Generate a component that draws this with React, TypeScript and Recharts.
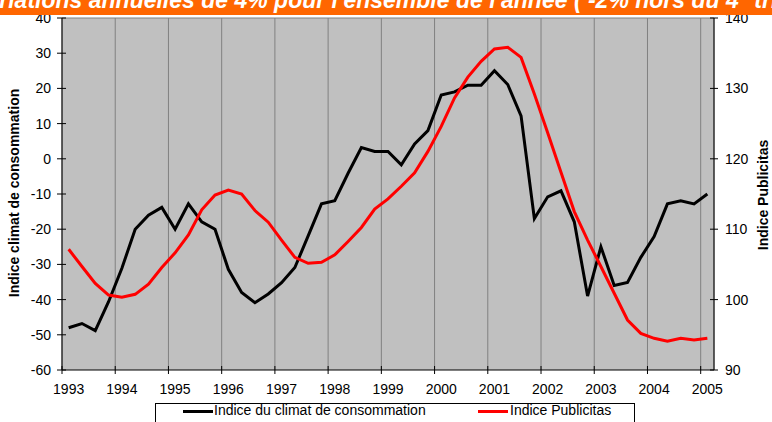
import React from 'react';
import { ComposedChart, Line, XAxis, YAxis, CartesianGrid, ReferenceLine } from 'recharts';

const years = ['1993', '1994', '1995', '1996', '1997', '1998', '1999', '2000', '2001', '2002', '2003', '2004', '2005'];

const climat = [-48, -46.8, -48.8, -40.6, -31.1, -20, -16, -13.8, -20, -12.8, -17.9, -20, -31.4, -38, -40.9, -38.4, -35.2, -30.9, -21.9, -12.8, -11.9, -4.1, 3.2, 2.1, 2.1, -1.7, 4.2, 8, 18.1, 19, 20.9, 20.9, 25, 21.1, 12.2, -17, -10.8, -9.1, -17.9, -39, -25, -36, -35.1, -28, -22.1, -12.8, -11.9, -12.8, -10];

const publicitas = [107.15, 104.7, 102.3, 100.65, 100.35, 100.75, 102.2, 104.55, 106.65, 109.2, 112.75, 114.85, 115.55, 115.0, 112.65, 111, 108.45, 106, 105.15, 105.3, 106.35, 108.25, 110.25, 112.85, 114.3, 116.1, 118, 121.05, 124.6, 128.65, 131.6, 133.85, 135.6, 135.85, 134.4, 129.2, 123.7, 118.1, 112.5, 108.45, 104.7, 100.9, 97.1, 95.2, 94.5, 94.1, 94.5, 94.25, 94.5];

const leftTicks = [-60, -50, -40, -30, -20, -10, 0, 10, 20, 30, 40];
const rightTicks = [90, 100, 110, 120, 130, 140];
const xTicks = years.map((_, i) => i * 4);

const data = climat.map((c, i) => ({ q: i + 0.5, climat: c, pub: publicitas[i] }));

const FONT = '"Liberation Sans", Arial, sans-serif';

const XTick = (props: any) => {
  const { x, y, payload } = props;
  const label = years[Math.round(payload.value / 4)];
  return (
    <g>
      <line x1={x} x2={x} y1={y - 4} y2={y + 4} stroke="#000" strokeWidth={1} />
      <text x={x + 6.65} y={y + 24} textAnchor="middle" fontSize={14} fontFamily={FONT} fill="#000">{label}</text>
    </g>
  );
};

const LeftTick = (props: any) => {
  const { x, y, payload } = props;
  return (
    <g>
      <line x1={x - 5} x2={x + 4} y1={y} y2={y} stroke="#000" strokeWidth={1} />
      <text x={x - 11} y={y + 5} textAnchor="end" fontSize={14} fontFamily={FONT} fill="#000">{payload.value}</text>
    </g>
  );
};

const RightTick = (props: any) => {
  const { x, y, payload } = props;
  return (
    <g>
      <line x1={x - 4} x2={x + 4} y1={y} y2={y} stroke="#000" strokeWidth={1} />
      <text x={x + 11} y={y + 5} textAnchor="start" fontSize={14} fontFamily={FONT} fill="#000">{payload.value}</text>
    </g>
  );
};

export default function App() {
  return (
    <div style={{ position: 'absolute', left: 0, top: 0, width: 772, height: 422, overflow: 'hidden', background: '#fff', fontFamily: FONT }}>
      <div style={{ position: 'absolute', left: 0, top: 0 }}>
        <ComposedChart width={772} height={422} data={data} margin={{ top: 18, right: 18, bottom: 22, left: 22 }}>
          <CartesianGrid yAxisId="left" horizontal={false} vertical={true} stroke="#808080" strokeWidth={1} fill="#C0C0C0" />
          <ReferenceLine yAxisId="left" y={40} stroke="#808080" strokeWidth={1} />
          <XAxis dataKey="q" type="number" domain={[0, 49]} ticks={xTicks} interval={0} tickLine={false} tickSize={0} tickMargin={0} height={30} axisLine={{ stroke: '#000' }} tick={<XTick />} allowDataOverflow />
          <YAxis yAxisId="left" domain={[-60, 40]} ticks={leftTicks} interval={0} tickLine={false} tickSize={0} tickMargin={0} width={40} axisLine={{ stroke: '#000' }} tick={<LeftTick />} allowDataOverflow />
          <YAxis yAxisId="right" orientation="right" domain={[90, 140]} ticks={rightTicks} interval={0} tickLine={false} tickSize={0} tickMargin={0} width={40} axisLine={{ stroke: '#000' }} tick={<RightTick />} allowDataOverflow />
          <Line yAxisId="left" type="linear" dataKey="climat" stroke="#000" strokeWidth={3} dot={false} isAnimationActive={false} />
          <Line yAxisId="right" type="linear" dataKey="pub" stroke="#FF0000" strokeWidth={3} dot={false} isAnimationActive={false} />
        </ComposedChart>
      </div>
      <div style={{ position: 'absolute', left: 0, top: 0, width: 772, height: 15, overflow: 'hidden', background: '#FF6600' }}>
        <div style={{ position: 'absolute', left: -28, top: -13, fontSize: 23, lineHeight: '26px', fontWeight: 'bold', fontStyle: 'italic', color: '#fff', whiteSpace: 'nowrap' }}>
          Variations annuelles de 4% pour l'ensemble de l'année ( -2% hors du 4° trimestre)
        </div>
      </div>
      <div style={{ position: 'absolute', left: 14, top: 193, width: 0, height: 0 }}>
        <div style={{ position: 'absolute', left: 0, top: 0, transform: 'translate(-50%, -50%) rotate(-90deg)', whiteSpace: 'nowrap', fontSize: 14, fontWeight: 'bold', lineHeight: '16px' }}>
          Indice climat de consommation
        </div>
      </div>
      <div style={{ position: 'absolute', left: 763, top: 195, width: 0, height: 0 }}>
        <div style={{ position: 'absolute', left: 0, top: 0, transform: 'translate(-50%, -50%) rotate(-90deg)', whiteSpace: 'nowrap', fontSize: 14, fontWeight: 'bold', lineHeight: '16px' }}>
          Indice Publicitas
        </div>
      </div>
      <div style={{ position: 'absolute', left: 155, top: 403, width: 478, height: 30, border: '1px solid #000', background: '#fff' }}>
        <div style={{ position: 'absolute', left: 27, top: 6, width: 30, height: 3, background: '#000' }} />
        <div style={{ position: 'absolute', left: 58, top: -2, fontSize: 14, lineHeight: '16px', whiteSpace: 'nowrap' }}>Indice du climat de consommation</div>
        <div style={{ position: 'absolute', left: 322, top: 6, width: 30, height: 3, background: '#FF0000' }} />
        <div style={{ position: 'absolute', left: 354, top: -2, fontSize: 14, lineHeight: '16px', whiteSpace: 'nowrap' }}>Indice Publicitas</div>
      </div>
    </div>
  );
}
